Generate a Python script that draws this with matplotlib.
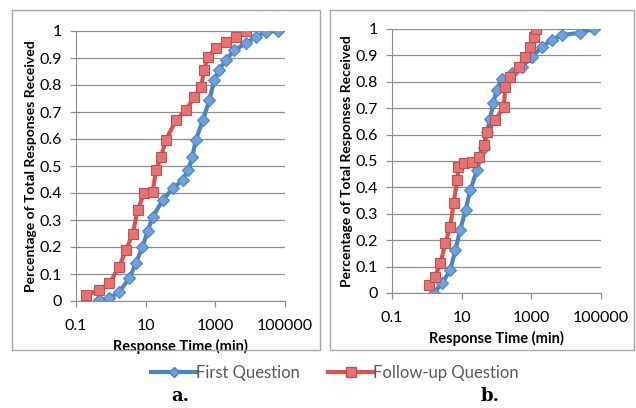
import matplotlib.pyplot as plt
from matplotlib.patches import Rectangle
from matplotlib.lines import Line2D

# panel a: response times (min) and cumulative fraction
a_first_t = [0.47, 0.91, 1.74, 3.4, 5.2, 8.1, 11.5, 15.8, 31, 60, 115, 166, 219, 275,
             437, 676, 933, 1288, 2042, 3548, 7586, 14791, 28184, 61660]
a_first_y = [0.004, 0.01, 0.034, 0.084, 0.14, 0.20, 0.26, 0.31, 0.374, 0.417, 0.448, 0.485,
             0.534, 0.596, 0.67, 0.744, 0.819, 0.856, 0.893, 0.93, 0.954, 0.979, 0.998, 1.0]
a_follow_t = [0.195, 0.47, 0.91, 1.74, 2.75, 4.27, 5.9, 9.1, 15.8, 20, 27.5, 38, 74,
              145, 251, 389, 479, 603, 1047, 2042, 3890, 7586]
a_follow_y = [0.022, 0.04, 0.065, 0.127, 0.19, 0.25, 0.337, 0.40, 0.405, 0.485, 0.534,
              0.596, 0.67, 0.707, 0.757, 0.794, 0.856, 0.905, 0.936, 0.96, 0.979, 1.0]

# panel b
b_first_t = [1.58, 2.75, 4.68, 6.6, 9.1, 12.9, 17.8, 27.5, 42.7, 52.5, 66, 81, 102,
             141, 275, 537, 1047, 2042, 3890, 7586, 25704, 61660]
b_first_y = [0.0, 0.037, 0.087, 0.163, 0.239, 0.314, 0.39, 0.466, 0.55, 0.61, 0.66, 0.72,
             0.77, 0.81, 0.832, 0.857, 0.895, 0.933, 0.958, 0.977, 0.986, 1.0]
b_follow_t = [1.12, 1.74, 2.45, 3.4, 4.68, 5.9, 7.4, 8.1, 11.5, 20, 31, 42.7, 53.7,
              93, 162, 178, 251, 437, 676, 933, 1175, 1349]
b_follow_y = [0.03, 0.062, 0.112, 0.188, 0.251, 0.34, 0.428, 0.478, 0.491, 0.497, 0.516,
              0.56, 0.61, 0.655, 0.706, 0.781, 0.819, 0.857, 0.895, 0.933, 0.971, 1.0]

blue = '#4A84C6'
red = '#D9534F'

plt.rcParams['font.family'] = ['Lato', 'DejaVu Sans']
fig = plt.figure(figsize=(6.36, 4.08), dpi=100)

# panel frames
for x0, x1 in [(12, 320), (330, 634)]:
    fig.patches.append(Rectangle((x0 / 636, 1 - 350 / 408), (x1 - x0) / 636, 340 / 408,
                                 transform=fig.transFigure, fill=False,
                                 edgecolor='#a6a6a6', lw=1.0))

panels = [
    ([76 / 636, 1 - 301 / 408, 209 / 636, 270 / 408], a_first_t, a_first_y, a_follow_t, a_follow_y),
    ([392 / 636, 1 - 293 / 408, 209 / 636, 264 / 408], b_first_t, b_first_y, b_follow_t, b_follow_y),
]

for rect, ft, fy, rt, ry in panels:
    ax = fig.add_axes(rect)
    ax.plot(ft, fy, color=blue, lw=3, marker='D', ms=6, mfc='#6FA0DA', mec=blue, mew=0.8)
    ax.plot(rt, ry, color=red, lw=3, marker='s', ms=7.5, mfc='#E57373', mec='#C0504D', mew=0.8)
    ax.set_xscale('log')
    ax.set_xlim(0.1, 100000)
    ax.set_ylim(0, 1)
    ax.set_xticks([0.1, 10, 1000, 100000])
    ax.set_xticklabels(['0.1', '10', '1000', '100000'])
    ax.minorticks_off()
    ax.set_yticks([i / 10 for i in range(11)])
    ax.set_yticklabels(['0', '0.1', '0.2', '0.3', '0.4', '0.5', '0.6', '0.7', '0.8', '0.9', '1'])
    ax.grid(axis='y', color='#8c8c8c', lw=0.9)
    ax.set_axisbelow(True)
    for s in ['top', 'right']:
        ax.spines[s].set_visible(False)
    for s in ['left', 'bottom']:
        ax.spines[s].set_color('#8c8c8c')
    ax.tick_params(colors='#8c8c8c', labelcolor='black', labelsize=11.5, length=4, width=0.9)
    ax.tick_params(axis='x', pad=9)
    ax.tick_params(axis='y', pad=6)
    ax.set_xlabel('Response Time (min)', fontsize=10.5, fontweight='bold', labelpad=4)
    ax.set_ylabel('Percentage of Total Responses Received', fontsize=10, fontweight='bold', labelpad=2)

handles = [
    Line2D([], [], color=blue, lw=3, marker='D', ms=5, mfc='#6FA0DA', mec=blue),
    Line2D([], [], color=red, lw=3, marker='s', ms=6.5, mfc='#E57373', mec='#C0504D'),
]
fig.legend(handles, ['First Question', 'Follow-up Question'], loc='center',
           bbox_to_anchor=(0.527, 1 - 373 / 408), ncol=2, frameon=False, fontsize=12,
           handlelength=2.7, handletextpad=0.0, columnspacing=1.7, labelcolor='#595959')

fig.text(180 / 636, 1 - 396 / 408, 'a.', family='DejaVu Serif', fontweight='bold',
         fontsize=13, ha='center', va='center')
fig.text(490 / 636, 1 - 396 / 408, 'b.', family='DejaVu Serif', fontweight='bold',
         fontsize=13, ha='center', va='center')

fig.savefig('out.png', dpi=100)
